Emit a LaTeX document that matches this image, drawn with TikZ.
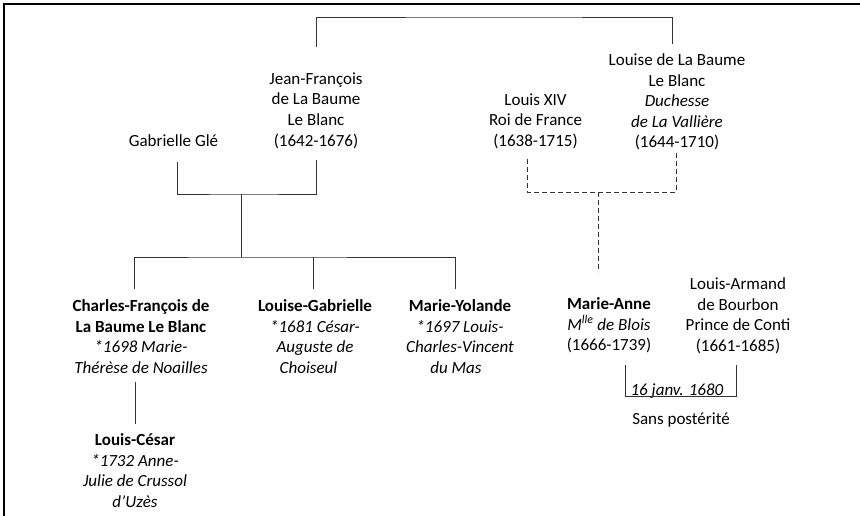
\documentclass[tikz,border=0pt]{standalone}
\usepackage{fontspec}
\setmainfont{Carlito}
\begin{document}
\begin{tikzpicture}[x=1pt,y=-1pt,
  person/.style={align=center, inner sep=0pt, text=black,
    font=\fontsize{17}{20.6}\selectfont,
    execute at begin node=\strut, execute at end node=\strut},
  link/.style={draw=black!80, line width=0.8pt},
  dlink/.style={link, dash pattern=on 5pt off 3pt},
  frame/.style={draw=black, line width=1.4pt}]
\useasboundingbox (0,0) rectangle (860,516);
\draw[frame] (4,516) -- (4,4) -- (860,4);

\node[person,anchor=north] (jf) at (316,72.5) {Jean-François\\de La Baume\\Le Blanc\\(1642-1676)};
\node[person,anchor=north] (gab) at (173.5,131.5) {Gabrielle Glé};
\node[person,anchor=north] (lx) at (535.5,93.5) {Louis XIV\\Roi de France\\(1638-1715)};
\node[person,anchor=north] (ld) at (677,53.5) {Louise de La Baume\\Le Blanc\\\textit{Duchesse}\\\textit{de La Vallière}\\(1644-1710)};
\node[person,anchor=north] (c1) at (141,299.5) {\textbf{Charles-François de}\\\textbf{La Baume Le Blanc}\\\textit{*1698 Marie-}\hspace*{8pt}\\\textit{Thérèse de Noailles}};
\node[person,anchor=north] (c2) at (315,299.5) {\textbf{Louise-Gabrielle}\\\textit{*1681 César-}\hspace*{13pt}\\\textit{Auguste de}\hspace*{13pt}\\\textit{Choiseul}\hspace*{13pt}};
\node[person,anchor=north] (c3) at (460,299.5) {\textbf{Marie-Yolande}\\\textit{*1697 Louis-}\hspace*{8pt}\\\textit{Charles-Vincent}\hspace*{8pt}\\\textit{du Mas}\hspace*{8pt}};
\node[person,anchor=north] (c4) at (135,433.5) {\textbf{Louis-César}\\\textit{*1732 Anne-}\hspace*{6pt}\\\textit{Julie de Crussol}\\\textit{d’Uzès}};
\node[person,anchor=north] (ma) at (609,297.5) {\textbf{Marie-Anne}\\\textit{M\textsuperscript{lle} de Blois}\\(1666-1739)};
\node[person,anchor=north] (la) at (738,277.5) {Louis-Armand\\de Bourbon\\Prince de Conti\\(1661-1685)};
\node[person] (date) at (677,391) {\textit{16 janv. 1680}};
\node[person] (sp) at (681,420) {Sans postérité};

\coordinate (top) at (494,17);
\coordinate (m1) at (241,194);
\coordinate (bus) at (241,257);
\coordinate (m2) at (598,192);

% top link between siblings
\draw[link] ([yshift=25.5pt]jf.north) |- (top) -| ([xshift=-5pt,yshift=9.5pt]ld.north);
% Gabrielle Glé & Jean-François
\draw[link] ([xshift=3.5pt,yshift=-9.9pt]gab.south) |- (m1) -| ([yshift=-7.1pt]jf.south);
\draw[link] (m1) -- (bus);
\draw[link] ([xshift=-7pt,yshift=10.5pt]c1.north) |- (bus) -| ([xshift=-5pt,yshift=10.5pt]c3.north);
\draw[link] (bus -| 313,0) -- ([xshift=-2pt,yshift=10.5pt]c2.north);
\draw[link] ([xshift=-6pt,yshift=-2.1pt]c1.south) -- ([yshift=9.5pt]c4.north);
% Louis XIV & Louise
\draw[dlink] ([xshift=-8.5pt,yshift=-6.5pt]lx.south) |- (m2) -| ([xshift=-1pt,yshift=1.5pt]ld.south);
\draw[dlink] (m2) -- ([xshift=-11pt,yshift=25.5pt]ma.north);
% Marie-Anne & Louis-Armand
\draw[link] ([xshift=16pt,yshift=-7.5pt]ma.south) -- ++(0,32) -| ([xshift=-2pt,yshift=-7.1pt]la.south);
\end{tikzpicture}
\end{document}
